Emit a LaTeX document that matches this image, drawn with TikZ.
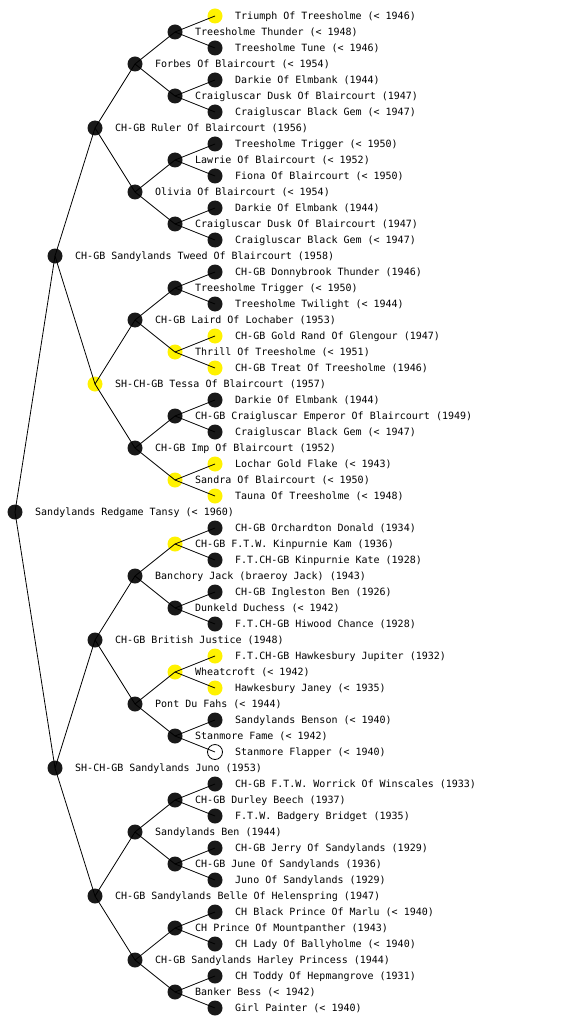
\documentclass[tikz,border=0pt]{standalone}
\usepackage{fontspec}
\newfontfamily\dogfont{DejaVu Sans Mono}
\tikzset{
  dogb/.style={circle, minimum size=15pt, inner sep=0pt, fill=black!90},
  dogy/.style={circle, minimum size=15pt, inner sep=0pt, fill=yellow},
  doge/.style={circle, minimum size=15pt, inner sep=0pt, draw=black, line width=0.8pt, fill=white},
  lbl/.style={anchor=base west, inner sep=0pt, font=\dogfont\fontsize{10pt}{12pt}\selectfont},
  link/.style={draw=black, line width=0.8pt}
}
\newcommand\pnode[5]{%
  \node[#2] (n#1) at (#3,#4) {};
  \node[lbl] (t#1) at ([xshift=20pt,yshift=-3.6pt]n#1.center) {#5};}
\begin{document}
\begin{tikzpicture}[x=1pt,y=-1pt]
\fill[white] (0,0) rectangle (560,1024);
\useasboundingbox (0,0) rectangle (560,1024);
\pnode{1}{dogy}{215}{16}{Triumph Of Treesholme (< 1946)}
\pnode{2}{dogb}{175}{32}{Treesholme Thunder (< 1948)}
\pnode{3}{dogb}{215}{48}{Treesholme Tune (< 1946)}
\pnode{4}{dogb}{135}{64}{Forbes Of Blaircourt (< 1954)}
\pnode{5}{dogb}{215}{80}{Darkie Of Elmbank (1944)}
\pnode{6}{dogb}{175}{96}{Craigluscar Dusk Of Blaircourt (1947)}
\pnode{7}{dogb}{215}{112}{Craigluscar Black Gem (< 1947)}
\pnode{8}{dogb}{95}{128}{CH-GB Ruler Of Blaircourt (1956)}
\pnode{9}{dogb}{215}{144}{Treesholme Trigger (< 1950)}
\pnode{10}{dogb}{175}{160}{Lawrie Of Blaircourt (< 1952)}
\pnode{11}{dogb}{215}{176}{Fiona Of Blaircourt (< 1950)}
\pnode{12}{dogb}{135}{192}{Olivia Of Blaircourt (< 1954)}
\pnode{13}{dogb}{215}{208}{Darkie Of Elmbank (1944)}
\pnode{14}{dogb}{175}{224}{Craigluscar Dusk Of Blaircourt (1947)}
\pnode{15}{dogb}{215}{240}{Craigluscar Black Gem (< 1947)}
\pnode{16}{dogb}{55}{256}{CH-GB Sandylands Tweed Of Blaircourt (1958)}
\pnode{17}{dogb}{215}{272}{CH-GB Donnybrook Thunder (1946)}
\pnode{18}{dogb}{175}{288}{Treesholme Trigger (< 1950)}
\pnode{19}{dogb}{215}{304}{Treesholme Twilight (< 1944)}
\pnode{20}{dogb}{135}{320}{CH-GB Laird Of Lochaber (1953)}
\pnode{21}{dogy}{215}{336}{CH-GB Gold Rand Of Glengour (1947)}
\pnode{22}{dogy}{175}{352}{Thrill Of Treesholme (< 1951)}
\pnode{23}{dogy}{215}{368}{CH-GB Treat Of Treesholme (1946)}
\pnode{24}{dogy}{95}{384}{SH-CH-GB Tessa Of Blaircourt (1957)}
\pnode{25}{dogb}{215}{400}{Darkie Of Elmbank (1944)}
\pnode{26}{dogb}{175}{416}{CH-GB Craigluscar Emperor Of Blaircourt (1949)}
\pnode{27}{dogb}{215}{432}{Craigluscar Black Gem (< 1947)}
\pnode{28}{dogb}{135}{448}{CH-GB Imp Of Blaircourt (1952)}
\pnode{29}{dogy}{215}{464}{Lochar Gold Flake (< 1943)}
\pnode{30}{dogy}{175}{480}{Sandra Of Blaircourt (< 1950)}
\pnode{31}{dogy}{215}{496}{Tauna Of Treesholme (< 1948)}
\pnode{32}{dogb}{15}{512}{Sandylands Redgame Tansy (< 1960)}
\pnode{33}{dogb}{215}{528}{CH-GB Orchardton Donald (1934)}
\pnode{34}{dogy}{175}{544}{CH-GB F.T.W. Kinpurnie Kam (1936)}
\pnode{35}{dogb}{215}{560}{F.T.CH-GB Kinpurnie Kate (1928)}
\pnode{36}{dogb}{135}{576}{Banchory Jack (braeroy Jack) (1943)}
\pnode{37}{dogb}{215}{592}{CH-GB Ingleston Ben (1926)}
\pnode{38}{dogb}{175}{608}{Dunkeld Duchess (< 1942)}
\pnode{39}{dogb}{215}{624}{F.T.CH-GB Hiwood Chance (1928)}
\pnode{40}{dogb}{95}{640}{CH-GB British Justice (1948)}
\pnode{41}{dogy}{215}{656}{F.T.CH-GB Hawkesbury Jupiter (1932)}
\pnode{42}{dogy}{175}{672}{Wheatcroft (< 1942)}
\pnode{43}{dogy}{215}{688}{Hawkesbury Janey (< 1935)}
\pnode{44}{dogb}{135}{704}{Pont Du Fahs (< 1944)}
\pnode{45}{dogb}{215}{720}{Sandylands Benson (< 1940)}
\pnode{46}{dogb}{175}{736}{Stanmore Fame (< 1942)}
\pnode{47}{doge}{215}{752}{Stanmore Flapper (< 1940)}
\pnode{48}{dogb}{55}{768}{SH-CH-GB Sandylands Juno (1953)}
\pnode{49}{dogb}{215}{784}{CH-GB F.T.W. Worrick Of Winscales (1933)}
\pnode{50}{dogb}{175}{800}{CH-GB Durley Beech (1937)}
\pnode{51}{dogb}{215}{816}{F.T.W. Badgery Bridget (1935)}
\pnode{52}{dogb}{135}{832}{Sandylands Ben (1944)}
\pnode{53}{dogb}{215}{848}{CH-GB Jerry Of Sandylands (1929)}
\pnode{54}{dogb}{175}{864}{CH-GB June Of Sandylands (1936)}
\pnode{55}{dogb}{215}{880}{Juno Of Sandylands (1929)}
\pnode{56}{dogb}{95}{896}{CH-GB Sandylands Belle Of Helenspring (1947)}
\pnode{57}{dogb}{215}{912}{CH Black Prince Of Marlu (< 1940)}
\pnode{58}{dogb}{175}{928}{CH Prince Of Mountpanther (1943)}
\pnode{59}{dogb}{215}{944}{CH Lady Of Ballyholme (< 1940)}
\pnode{60}{dogb}{135}{960}{CH-GB Sandylands Harley Princess (1944)}
\pnode{61}{dogb}{215}{976}{CH Toddy Of Hepmangrove (1931)}
\pnode{62}{dogb}{175}{992}{Banker Bess (< 1942)}
\pnode{63}{dogb}{215}{1008}{Girl Painter (< 1940)}
% connectors: parent/offset to its two children
\foreach \p/\s in {32/16, 16/8, 48/8, 8/4, 24/4, 40/4, 56/4,
    4/2, 12/2, 20/2, 28/2, 36/2, 44/2, 52/2, 60/2,
    2/1, 6/1, 10/1, 14/1, 18/1, 22/1, 26/1, 30/1,
    34/1, 38/1, 42/1, 46/1, 50/1, 54/1, 58/1, 62/1} {
  \pgfmathtruncatemacro\lo{\p-\s}
  \pgfmathtruncatemacro\hi{\p+\s}
  \draw[link] (n\p.center) -- (n\lo.center);
  \draw[link] (n\p.center) -- (n\hi.center);
}
\end{tikzpicture}
\end{document}
